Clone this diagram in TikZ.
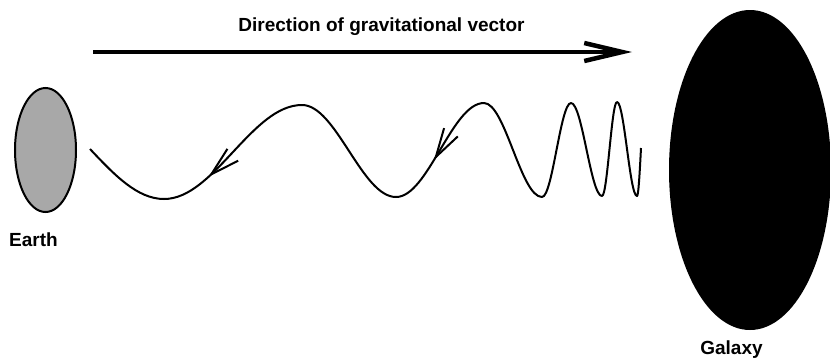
\documentclass[tikz,border=0pt]{standalone}
\usepackage{fontspec}
\setmainfont{Liberation Sans}
\usepackage{xcolor}
\usepackage{tikz}
\usetikzlibrary{
  arrows.meta,
  shapes.geometric,
  decorations.markings
}
\definecolor{earthgray}{HTML}{A8A8A8}

\begin{document}
\begin{tikzpicture}[x=1bp,y=-1bp,
  labeltext/.style={font=\fontsize{19bp}{22bp}\selectfont\bfseries,inner sep=0pt},
  body/.style={ellipse,draw=black,line width=2bp,inner sep=0pt},
  wavearrows/.style={decoration={markings,
    mark=at position 0.583 with {\arrow{Straight Barb[length=29bp,width=16bp,line width=2bp]}},
    mark=at position 0.869 with {\arrow{Straight Barb[length=29bp,width=16bp,line width=2bp]}}},
    postaction={decorate}}]
\useasboundingbox (0,0) rectangle (830,358);
% the two bodies
\node[body,fill=earthgray,minimum width=61bp,minimum height=124bp] (earth) at (45.5,150) {};
\node[body,fill=black,minimum width=160bp,minimum height=318bp] (galaxy) at (750,170) {};
\node[labeltext,anchor=base] (earthlabel) at (33.5,246) {Earth};
\node[labeltext,anchor=base] (galaxylabel) at (731.5,354) {Galaxy};
% gravitational vector
\coordinate (vstart) at (93,52);
\coordinate (vend) at (632,52);
\draw[line width=3.5bp,-{Straight Barb[length=38bp,width=18bp,line width=4.5bp]}] (vstart) -- (vend);
\node[labeltext,anchor=base] (title) at (381.5,31) {Direction of gravitational vector};
% wave, drawn from the galaxy side to the earth side
\draw[line width=2bp,line join=round,wavearrows]
  (641,148) sin (637,196) cos (627,149) sin (617,102)
  cos (609.5,149) sin (602,196) cos (586.5,149.5) sin (571,103)
  cos (556.5,150) sin (542,197) cos (513,150) sin (484,103)
  cos (440,150) sin (396,197) cos (349,151) sin (302,105)
  cos (233,152) sin (164,199) cos (90,149);
\end{tikzpicture}
\end{document}
